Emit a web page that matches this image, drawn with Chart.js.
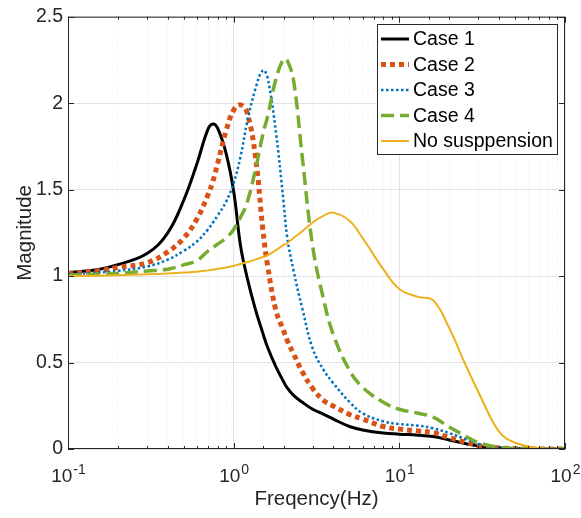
<!DOCTYPE html>
<html>
<head>
<meta charset="utf-8">
<title>Magnitude vs frequency</title>
<script src="https://cdn.jsdelivr.net/npm/chart.js@4.4.0/dist/chart.umd.min.js"></script>
<style>
  html, body { margin: 0; padding: 0; background: #fff; }
  #wrap { width: 581px; height: 518px; }
</style>
</head>
<body>
<div id="wrap"><canvas id="myChart" width="581" height="518"></canvas></div>
<script>
'use strict';

// frequency points (Hz), shared by every curve
const freq = [0.1, 0.15, 0.2, 0.3, 0.4, 0.5, 0.6, 0.7, 0.75, 0.8, 0.9, 1.0, 1.1, 1.2, 1.35, 1.5, 1.6, 1.8, 2.0, 2.1,
  2.3, 2.6, 3, 3.5, 4, 5, 6, 8, 10, 13, 16, 20, 25, 30, 40, 50, 70, 100];

const case1 = [1.02, 1.037, 1.066, 1.13, 1.25, 1.44, 1.65, 1.85, 1.88, 1.855, 1.71, 1.49, 1.175, 1.0, 0.81, 0.67, 0.59, 0.475, 0.39, 0.355,
  0.31, 0.27, 0.23, 0.2, 0.173, 0.13, 0.11, 0.092, 0.086, 0.08, 0.072, 0.052, 0.032, 0.017, 0.006, 0.003, 0.001, 0];
const case2 = [1.015, 1.03, 1.05, 1.077, 1.14, 1.22, 1.33, 1.47, 1.55, 1.65, 1.84, 1.96, 1.99, 1.95, 1.7, 1.27, 1.066, 0.8, 0.685, 0.63,
  0.55, 0.445, 0.35, 0.28, 0.248, 0.2, 0.173, 0.13, 0.115, 0.104, 0.095, 0.066, 0.04, 0.02, 0.006, 0.002, 0, 0];
const case3 = [1.01, 1.02, 1.03, 1.055, 1.095, 1.146, 1.2, 1.27, 1.31, 1.35, 1.43, 1.54, 1.69, 1.88, 2.08, 2.19, 2.15, 1.83, 1.43, 1.23,
  1.03, 0.81, 0.58, 0.455, 0.38, 0.272, 0.207, 0.16, 0.144, 0.135, 0.12, 0.092, 0.058, 0.029, 0.009, 0.003, 0, 0];
const case4 = [1.005, 1.01, 1.015, 1.03, 1.04, 1.065, 1.09, 1.145, 1.165, 1.185, 1.22, 1.27, 1.34, 1.42, 1.61, 1.82, 1.92, 2.14, 2.255, 2.25,
  2.13, 1.68, 1.17, 0.86, 0.66, 0.455, 0.357, 0.27, 0.23, 0.207, 0.184, 0.127, 0.075, 0.037, 0.009, 0.003, 0, 0];
const noSuspension = [1.0, 1.002, 1.005, 1.01, 1.015, 1.02, 1.025, 1.033, 1.037, 1.042, 1.05, 1.06, 1.07, 1.08, 1.095, 1.11, 1.12, 1.15, 1.18, 1.19,
  1.22, 1.26, 1.31, 1.35, 1.367, 1.32, 1.22, 1.04, 0.925, 0.88, 0.86, 0.7, 0.49, 0.33, 0.1, 0.036, 0.005, 0];

const seriesNames = ['Case 1', 'Case 2', 'Case 3', 'Case 4', 'No susppension'];
const seriesValues = [case1, case2, case3, case4, noSuspension];

const yTickStep = 0.5;
const xDecadeExponents = ['-1', '0', '1', '2'];

const lineStyles = [
  { color: '#000000', width: 3, dash: [] },
  { color: '#D95319', width: 5, dash: [5, 4] },
  { color: '#0072BD', width: 2.5, dash: [2.5, 2.5] },
  { color: '#77AC30', width: 3.5, dash: [13, 6] },
  { color: '#EDB120', width: 2, dash: [] },
];

const FONT = '"Liberation Sans", Arial, Helvetica, sans-serif';
const TEXT = '#262626';

const isDecade = (v) => Math.abs(Math.log10(v) - Math.round(Math.log10(v))) < 1e-6;

// box around the axes, inward ticks and 10^n labels on the x axis
const axesBox = {
  id: 'axesBox',
  afterDatasetsDraw(chart) {
    const { ctx, chartArea: a, scales } = chart;
    const x = scales.x;
    const y = scales.y;
    ctx.save();
    ctx.strokeStyle = TEXT;
    ctx.lineWidth = 1;
    ctx.setLineDash([]);
    ctx.beginPath();
    x.ticks.forEach((t) => {
      const px = Math.round(x.getPixelForValue(t.value)) + 0.5;
      const len = isDecade(t.value) ? 6 : 3;
      ctx.moveTo(px, a.bottom);
      ctx.lineTo(px, a.bottom - len);
      ctx.moveTo(px, a.top);
      ctx.lineTo(px, a.top + len);
    });
    y.ticks.forEach((t) => {
      const py = Math.round(y.getPixelForValue(t.value)) + 0.5;
      ctx.moveTo(a.left, py);
      ctx.lineTo(a.left + 6, py);
      ctx.moveTo(a.right, py);
      ctx.lineTo(a.right - 6, py);
    });
    ctx.stroke();
    ctx.strokeRect(a.left + 0.5, a.top + 0.5, a.right - a.left - 1, a.bottom - a.top - 1);

    ctx.fillStyle = TEXT;
    ctx.textBaseline = 'alphabetic';
    ctx.textAlign = 'left';
    xDecadeExponents.forEach((exp) => {
      const px = x.getPixelForValue(Math.pow(10, +exp));
      ctx.font = '19px ' + FONT;
      const wBase = ctx.measureText('10').width;
      ctx.font = '14px ' + FONT;
      const wExp = ctx.measureText(exp).width;
      const x0 = px - (wBase + wExp) / 2;
      ctx.font = '19px ' + FONT;
      ctx.fillText('10', x0, a.bottom + 33);
      ctx.font = '14px ' + FONT;
      ctx.fillText(exp, x0 + wBase + 1, a.bottom + 25);
    });
    ctx.restore();
  },
};

// legend box in the upper right corner of the axes
const boxLegend = {
  id: 'boxLegend',
  afterDraw(chart) {
    const { ctx } = chart;
    const left = 377, top = 24, width = 180, height = 130, rowH = 25.5;
    ctx.save();
    ctx.fillStyle = '#ffffff';
    ctx.fillRect(left, top, width, height);
    ctx.strokeStyle = TEXT;
    ctx.lineWidth = 1;
    ctx.strokeRect(left + 0.5, top + 0.5, width, height);
    chart.data.datasets.forEach((ds, i) => {
      const cy = top + 15 + i * rowH;
      ctx.beginPath();
      ctx.strokeStyle = ds.borderColor;
      ctx.lineWidth = ds.borderWidth;
      ctx.setLineDash(ds.borderDash || []);
      ctx.moveTo(left + 4, cy);
      ctx.lineTo(left + 32, cy);
      ctx.stroke();
      ctx.setLineDash([]);
      ctx.fillStyle = '#000000';
      ctx.font = '19.5px ' + FONT;
      ctx.textBaseline = 'middle';
      ctx.textAlign = 'left';
      ctx.fillText(ds.label, left + 36, cy + 1);
    });
    ctx.restore();
  },
};

const datasets = seriesNames.map((name, i) => ({
  label: name,
  data: freq.map((f, j) => ({ x: f, y: seriesValues[i][j] })),
  borderColor: lineStyles[i].color,
  backgroundColor: lineStyles[i].color,
  borderWidth: lineStyles[i].width,
  borderDash: lineStyles[i].dash,
  borderCapStyle: 'butt',
  pointRadius: 0,
  tension: 0.4,
  fill: false,
  order: seriesNames.length - 1 - i,
}));

const ctx = document.getElementById('myChart');

new Chart(ctx, {
  type: 'line',
  data: { datasets },
  plugins: [axesBox, boxLegend],
  options: {
    responsive: false,
    animation: false,
    devicePixelRatio: 1,
    layout: { padding: { top: 15, right: 16, left: 0, bottom: 0 } },
    plugins: {
      legend: { display: false },
      tooltip: { enabled: false },
    },
    scales: {
      x: {
        type: 'logarithmic',
        min: 0.1,
        max: 100,
        afterFit: (s) => { s.height = 69; },
        ticks: { display: false },
        grid: {
          drawTicks: false,
          color: (c) => (c.tick && isDecade(c.tick.value) ? '#e3e3e3' : '#ebebeb'),
        },
        border: {
          display: false,
          dash: (c) => (c.tick && !isDecade(c.tick.value) ? [1, 2] : []),
        },
        title: {
          display: true,
          text: 'Freqency(Hz)',
          color: TEXT,
          font: { family: FONT, size: 20.5 },
          padding: { top: 0, bottom: 6 },
        },
      },
      y: {
        min: 0,
        max: 2.5,
        afterFit: (s) => { s.width = 68; },
        ticks: {
          stepSize: yTickStep,
          color: TEXT,
          padding: 5,
          font: { family: FONT, size: 19.5 },
          callback: (v) => String(v),
        },
        grid: { drawTicks: false, color: '#e3e3e3' },
        border: { display: false },
        title: {
          display: true,
          text: 'Magnitude',
          color: TEXT,
          font: { family: FONT, size: 20.5 },
          padding: { top: 13, bottom: 0 },
        },
      },
    },
  },
});
</script>
</body>
</html>
